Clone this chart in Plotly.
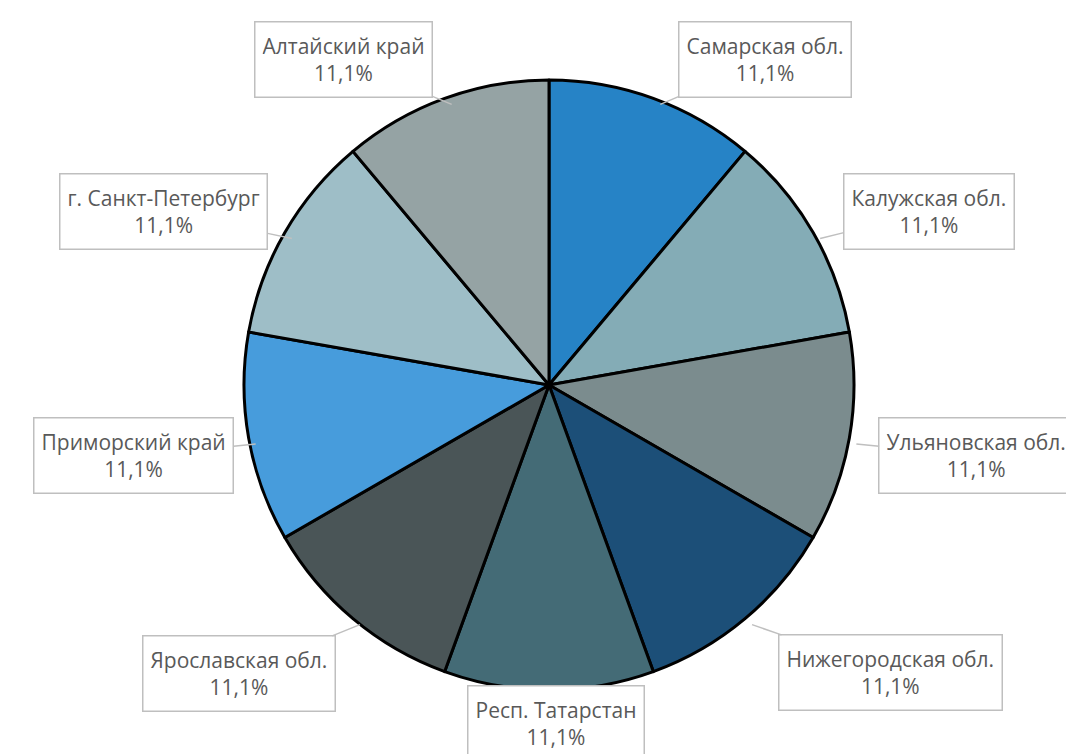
import math

import plotly.graph_objects as go

regions = ["Самарская обл.", "Калужская обл.", "Ульяновская обл.", "Нижегородская обл.",
           "Респ. Татарстан", "Ярославская обл.", "Приморский край", "г. Санкт-Петербург",
           "Алтайский край"]
shares = [1, 1, 1, 1, 1, 1, 1, 1, 1]
colors = ["#2683C6", "#84ACB6", "#7B8C8E", "#1C4F78", "#446B76",
          "#4A5557", "#479CDC", "#9EBEC7", "#95A3A4"]

# label box offsets (px) from the slice edge
label_offsets = [(105, -45), (109, -27), (120, 12), (138, 48), (0, 27),
                 (-121, 49), (-122, 12), (-128, -27), (-108, -45)]

W, H = 1074, 754
cx, cy, r = 548, 383, 305
# small correction for plotly's own pie placement inside the domain
dx, dy = -7, -6

fig = go.Figure(go.Pie(
    labels=regions, values=shares, sort=False, direction="clockwise", rotation=0,
    marker=dict(colors=colors, line=dict(color="black", width=3)),
    textinfo="none", hoverinfo="label+percent",
    domain=dict(x=[(cx - r + dx) / W, (cx + r + dx) / W],
                y=[(H - cy - r - dy) / H, (H - cy + r - dy) / H]),
))

total = sum(shares)
annotations = []
start = 0.0
for name, v, (ax, ay) in zip(regions, shares, label_offsets):
    mid = (start + v / 2) / total * 2 * math.pi
    start += v
    px = cx + r * math.sin(mid)
    py = cy - r * math.cos(mid)
    pct = f"{v / total * 100:.1f}%".replace(".", ",")
    annotations.append(dict(
        x=px / W, y=(H - py) / H, xref="paper", yref="paper",
        text=f"{name}<br>{pct}", showarrow=True, arrowhead=0, arrowwidth=1.5,
        arrowcolor="#bfbfbf", ax=ax, ay=ay, height=60,
        bordercolor="#bfbfbf", borderwidth=1.5, borderpad=7, bgcolor="white",
        font=dict(family="Open Sans", size=21, color="#595959"),
    ))

fig.update_layout(
    width=W, height=H, margin=dict(l=0, r=0, t=0, b=0),
    showlegend=False, paper_bgcolor="white", plot_bgcolor="white",
    annotations=annotations,
)

fig.write_html("out.html")
